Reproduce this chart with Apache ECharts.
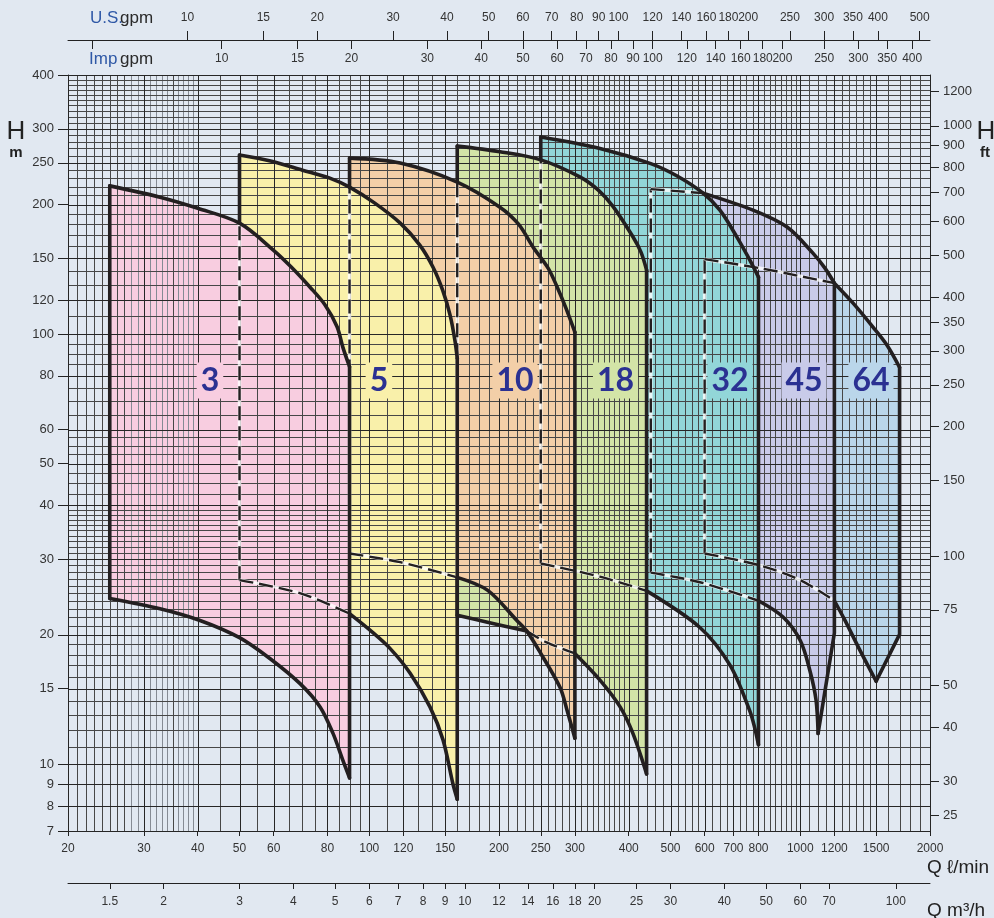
<!DOCTYPE html>
<html>
<head>
<meta charset="utf-8">
<script src="https://cdn.jsdelivr.net/npm/echarts@6/dist/echarts.min.js"></script>
<style>
  html, body { margin: 0; padding: 0; background: #e1e8f1; }
  #chart { width: 994px; height: 918px; }
</style>
</head>
<body>
<div id="chart"></div>
<script>
// ---- ranges and unit conversions ----
const Q_MIN = 20, Q_MAX = 2000;   // flow, l/min
const H_MIN = 7, H_MAX = 400;     // head, m
const L_PER_USGAL = 3.78541;
const L_PER_IMPGAL = 4.54609;
const M3H_PER_LMIN = 0.06;
const FT_PER_M = 3.28084;

// ---- tick labels ----
const qLabels = [20, 30, 40, 50, 60, 80, 100, 120, 150, 200, 250, 300, 400, 500, 600, 700, 800, 1000, 1200, 1500, 2000];
const m3hLabels = [1.5, 2, 3, 4, 5, 6, 7, 8, 9, 10, 12, 14, 16, 18, 20, 25, 30, 40, 50, 60, 70, 100];
const usGpmLabels = [10, 15, 20, 30, 40, 50, 60, 70, 80, 90, 100, 120, 140, 160, 180, 200, 250, 300, 350, 400, 500];
const impGpmTicks = [5, 10, 15, 20, 30, 40, 50, 60, 70, 80, 90, 100, 120, 140, 160, 180, 200, 250, 300, 350, 400];
const impGpmLabels = [10, 15, 20, 30, 40, 50, 60, 70, 80, 90, 100, 120, 140, 160, 180, 200, 250, 300, 350, 400];
const hLabels = [7, 8, 9, 10, 15, 20, 30, 40, 50, 60, 80, 100, 120, 150, 200, 250, 300, 400];
const ftLabels = [25, 30, 40, 50, 75, 100, 150, 200, 250, 300, 350, 400, 500, 600, 700, 800, 900, 1000, 1200];

// ---- secondary grid lines of the log paper ----
const qGridMinor = [21, 22, 23, 24, 25, 26, 27, 28, 29, 31, 32, 33, 34, 35, 36, 37, 38, 39,
  45, 55, 65, 70, 75, 85, 90, 95,
  110, 130, 140, 160, 170, 180, 190, 210, 220, 230, 240, 260, 270, 280, 290,
  310, 320, 330, 340, 350, 360, 370, 380, 390, 420, 440, 460, 480, 520, 540, 560, 580,
  625, 650, 675, 725, 750, 775, 825, 850, 875, 900, 925, 950, 975,
  1050, 1100, 1150, 1250, 1300, 1350, 1400, 1450, 1600, 1700, 1800, 1900];
const qGridFaint = [28, 29, 31, 32, 33, 34, 36, 37, 38, 39];
const hGridMinor = [11, 12, 13, 14, 16, 17, 18, 19, 21, 22, 23, 24, 25, 26, 27, 28, 29,
  31, 32, 33, 34, 35, 36, 37, 38, 39, 42.5, 45, 47.5, 52.5, 55, 57.5,
  65, 70, 75, 85, 90, 95, 110, 130, 140, 160, 170, 180, 190,
  210, 220, 230, 240, 260, 270, 280, 290, 310, 320, 330, 340, 350, 360, 370, 380, 390];

// ---- operating envelopes per pump family: [Q l/min, H m] ----
const top3 = [[25, 221], [32.7, 208], [40, 196], [50, 181], [59.8, 157], [66, 143], [72.9, 128.5], [78.9, 117], [84.2, 104], [86.9, 93], [90, 84]];
const bot3 = [[25, 24.3], [32.7, 23.0], [40.5, 21.6], [50, 19.7], [58.9, 17.6], [69.1, 15.4], [76.9, 13.6], [82.4, 11.8], [86.9, 10.2], [90, 9.3]];

const top5 = [[50, 260.6], [59, 252.4], [70, 240.4], [81, 230.4], [90, 219.5], [103, 201.5], [118, 181], [131, 161], [140.6, 143], [148, 126.5], [154, 110.7], [158, 96.8], [160, 87.9]];
const bot5 = [[50, 26.8], [69, 25.0], [90, 22.4], [100.4, 20.5], [111.7, 18.6], [124.3, 16.3], [138.3, 13.6], [148.3, 11.4], [156.4, 9.0], [160, 8.3]];

const top10 = [[90, 256.4], [118, 249.7], [160, 225.5], [201, 197.2], [222, 180], [240, 159.2], [260, 142.3], [273, 128.5], [286, 114.9], [300, 101]];
const bot10 = [[90, 30.9], [118, 29.5], [160, 27.2], [188, 25.4], [220, 21.6], [232, 20.4], [250, 18.1], [277, 15.1], [288, 13.3], [300, 11.5]];

const top18 = [[160, 273.4], [201, 265.3], [250, 254], [308, 231.9], [340, 216], [368, 197.8], [409, 168.3], [427, 155], [440, 140.8]];
const bot18 = [[160, 22.2], [188, 21.4], [232, 20.4], [258, 19.2], [300, 18.1], [343, 15.7], [382, 13.6], [409, 11.8], [440, 9.5]];

const top32 = [[250, 287], [343, 270], [450, 249], [518, 233], [595, 212.6], [651, 194], [713, 168], [764, 148.5], [800, 135.6]];
const bot32 = [[250, 29.3], [343, 27.3], [440, 25.3], [585, 20.8], [687, 17.0], [764, 13.3], [785, 12.1], [800, 11.1]];

const top45 = [[450, 217.2], [595, 212.6], [777, 194.1], [932, 177.3], [1070, 154.2], [1141, 142.3], [1200, 131.3]];
const bot45 = [[450, 27.9], [585, 26.5], [800, 24.0], [912, 22.0], [1000, 19.4], [1053, 16.5], [1088, 14.1], [1100, 11.8]];
const tail45 = [[1200, 20.2]];

const top64 = [[600, 149.3], [806, 142.3], [1000, 136.3], [1200, 131.3], [1326, 118], [1475, 103.8], [1590, 94.2], [1700, 83.7]];
const bot64 = [[600, 30.9], [806, 29.0], [1000, 26.8], [1200, 24.0], [1270, 21.6], [1376, 18.4], [1500, 15.6]];
const tail64 = [[1700, 20.05]];

// ---- family names, colours and tag positions ----
const familyNames = ['3', '5', '10', '18', '32', '45', '64'];
const familyColors = ['#f8cde0', '#f9f0aa', '#f3cfa8', '#d3e4a7', '#92d6d8', '#c9cbe9', '#bad6ea'];
const labelQ = [42.7, 105.3, 217.8, 372.7, 687, 1020, 1459];
const labelH = 78;

// Each envelope; the *Hidden spans are stretches of the outline that lie
// behind a smaller family and are therefore drawn dashed.
const families = [
  { top: top3,  bottom: bot3,  tail: [],     leftHidden: [],              topHidden: [],            bottomHidden: [] },
  { top: top5,  bottom: bot5,  tail: [],     leftHidden: [[26.8, 181]],   topHidden: [],            bottomHidden: [[50, 90]] },
  { top: top10, bottom: bot10, tail: [],     leftHidden: [[30.9, 219.5]], topHidden: [],            bottomHidden: [[90, 160]] },
  { top: top18, bottom: bot18, tail: [],     leftHidden: [[27.2, 225.5]], topHidden: [],            bottomHidden: [[232, 300]] },
  { top: top32, bottom: bot32, tail: [],     leftHidden: [[29.3, 254]],   topHidden: [],            bottomHidden: [[250, 440]] },
  { top: top45, bottom: bot45, tail: tail45, leftHidden: [[27.9, 217.2]], topHidden: [[450, 595]],  bottomHidden: [[450, 800]] },
  { top: top64, bottom: bot64, tail: tail64, leftHidden: [[30.9, 149.3]], topHidden: [[600, 1200]], bottomHidden: [[600, 1200]] }
];

function inSpan(v, spans) {
  return spans.some(s => v > s[0] && v < s[1]);
}
// split a curve into runs of solid / dashed segments
function splitCurve(pts, spans) {
  const out = [];
  for (let i = 0; i < pts.length - 1; i++) {
    const dashed = inSpan((pts[i][0] + pts[i + 1][0]) / 2, spans);
    const last = out[out.length - 1];
    if (last && last.dashed === dashed) last.pts.push(pts[i + 1]);
    else out.push({ dashed, smooth: true, pts: [pts[i], pts[i + 1]] });
  }
  return out;
}
// split the vertical left edge at flow q
function splitEdge(q, h0, h1, spans) {
  const cuts = [h0, h1];
  spans.forEach(s => cuts.push(s[0], s[1]));
  const hs = Array.from(new Set(cuts)).filter(h => h >= h0 && h <= h1).sort((a, b) => a - b);
  const out = [];
  for (let i = 0; i < hs.length - 1; i++) {
    out.push({ dashed: inSpan((hs[i] + hs[i + 1]) / 2, spans), smooth: false, pts: [[q, hs[i]], [q, hs[i + 1]]] });
  }
  return out;
}

const outlinePieces = [];
families.forEach(f => {
  const q0 = f.top[0][0];
  splitEdge(q0, f.bottom[0][1], f.top[0][1], f.leftHidden).forEach(p => outlinePieces.push(p));
  splitCurve(f.top, f.topHidden).forEach(p => outlinePieces.push(p));
  outlinePieces.push({ dashed: false, smooth: false,
    pts: [f.top[f.top.length - 1]].concat(f.tail, [f.bottom[f.bottom.length - 1]]) });
  splitCurve(f.bottom, f.bottomHidden).forEach(p => outlinePieces.push(p));
});

const dashedPieces = outlinePieces.filter(p => p.dashed);
const solidPieces = outlinePieces.filter(p => !p.dashed);

// grid line data: [value, anchor, kind]  kind 0 = main, 1 = secondary, 2 = faint
const gridQData = qLabels.map(q => [q, H_MIN, 0])
  .concat(qGridMinor.map(q => [q, H_MIN, qGridFaint.indexOf(q) >= 0 ? 2 : 1]));
const gridHData = hLabels.map(h => [Q_MIN, h, 0]).concat(hGridMinor.map(h => [Q_MIN, h, 1]));
const GRID_COLORS = ['#262626', '#474747', '#858b94'];
const OUTLINE = '#231f20';
const SMOOTH = 0.32;

const tickFont = '"Liberation Sans", Arial, sans-serif';
const fmt = v => String(Math.round(v * 100) / 100);

function logAxis(extra) {
  return Object.assign({
    type: 'log', logBase: 10,
    splitLine: { show: false }, minorTick: { show: false }, minorSplitLine: { show: false },
    axisLine: { show: true, lineStyle: { color: '#222', width: 1 } }
  }, extra);
}

const chart = echarts.init(document.getElementById('chart'), null, { renderer: 'canvas' });

const titleFont = '17px "Liberation Sans", Arial, sans-serif';
function titleText(x, y, text, fill, font, align) {
  return { type: 'text', x: x, y: y, silent: true,
    style: { text: text, fill: fill, font: font, textAlign: align || 'left', align: align || 'left',
      textVerticalAlign: 'middle', verticalAlign: 'middle' } };
}

const option = {
  backgroundColor: '#e1e8f1',
  animation: false,
  grid: { left: 68, right: 64, top: 75, bottom: 87, containLabel: false, outerBoundsMode: 'none' },
  xAxis: [
    logAxis({
      min: Q_MIN, max: Q_MAX, position: 'bottom',
      axisTick: { show: true, customValues: qLabels, length: 5, lineStyle: { color: '#222' } },
      axisLabel: { customValues: qLabels, formatter: fmt, color: '#333', fontSize: 12, fontFamily: tickFont, margin: 12 }
    }),
    logAxis({
      min: Q_MIN * M3H_PER_LMIN, max: Q_MAX * M3H_PER_LMIN, position: 'bottom', offset: 52,
      axisTick: { show: true, customValues: m3hLabels, length: 6, lineStyle: { color: '#222' } },
      axisLabel: { customValues: m3hLabels, formatter: fmt, color: '#333', fontSize: 12, fontFamily: tickFont, margin: 13 }
    }),
    logAxis({
      min: Q_MIN / L_PER_USGAL, max: Q_MAX / L_PER_USGAL, position: 'top', offset: 35,
      axisTick: { show: true, customValues: usGpmLabels, length: 9, lineStyle: { color: '#222' } },
      axisLabel: { customValues: usGpmLabels, formatter: fmt, color: '#333', fontSize: 12, fontFamily: tickFont, margin: 16 }
    }),
    logAxis({
      min: Q_MIN / L_PER_IMPGAL, max: Q_MAX / L_PER_IMPGAL, position: 'top', offset: 35,
      axisLine: { show: false },
      axisTick: { show: true, inside: true, customValues: impGpmTicks, length: 9, lineStyle: { color: '#222' } },
      axisLabel: { inside: true, customValues: impGpmLabels, formatter: fmt, color: '#333', fontSize: 12, fontFamily: tickFont, margin: 13 }
    })
  ],
  yAxis: [
    logAxis({
      min: H_MIN, max: H_MAX, position: 'left',
      axisTick: { show: true, customValues: hLabels, length: 10, lineStyle: { color: '#222' } },
      axisLabel: { customValues: hLabels, formatter: fmt, color: '#333', fontSize: 13, fontFamily: tickFont, margin: 14 }
    }),
    logAxis({
      min: H_MIN * FT_PER_M, max: H_MAX * FT_PER_M, position: 'right',
      axisTick: { show: true, customValues: ftLabels, length: 9, lineStyle: { color: '#222' } },
      axisLabel: { customValues: ftLabels, formatter: fmt, color: '#333', fontSize: 13, fontFamily: tickFont, margin: 13 }
    })
  ],
  graphic: [
    titleText(90, 18, 'U.S.', '#2f58a6', titleFont),
    titleText(120, 18, 'gpm', '#2a2a2a', titleFont),
    titleText(89, 59, 'Imp', '#2f58a6', titleFont),
    titleText(120, 59, 'gpm', '#2a2a2a', titleFont),
    titleText(16, 132, 'H', '#222', '26px "Liberation Sans", Arial, sans-serif', 'center'),
    titleText(16, 153, 'm', '#222', 'bold 15px "Liberation Sans", Arial, sans-serif', 'center'),
    titleText(986, 132, 'H', '#222', '26px "Liberation Sans", Arial, sans-serif', 'center'),
    titleText(985, 153, 'ft', '#222', 'bold 15px "Liberation Sans", Arial, sans-serif', 'center'),
    titleText(927, 868, 'Q \u2113/min', '#222', '19px "Liberation Sans", Arial, sans-serif'),
    titleText(927, 911, 'Q m\u00b3/h', '#222', '19px "Liberation Sans", Arial, sans-serif')
  ],
  series: [
    {
      // coloured envelopes, larger families behind smaller ones
      type: 'custom', name: 'envelopes', coordinateSystem: 'cartesian2d', xAxisIndex: 0, yAxisIndex: 0,
      z: 1, silent: true,
      data: families.map((f, i) => [f.top[0][0], f.top[0][1], i]).reverse(),
      renderItem: function (params, api) {
        const i = api.value(2);
        const f = families[i];
        const ring = f.top.concat(f.tail, f.bottom.slice().reverse());
        return {
          type: 'polygon', z2: 20 - i,
          shape: { points: ring.map(p => api.coord(p)) },
          style: { fill: familyColors[i], stroke: null }
        };
      }
    },
    {
      // vertical grid of the log paper
      type: 'custom', name: 'gridQ', coordinateSystem: 'cartesian2d', xAxisIndex: 0, yAxisIndex: 0,
      z: 2, silent: true, data: gridQData,
      renderItem: function (params, api) {
        const q = api.value(0), kind = api.value(2);
        const a = api.coord([q, H_MIN]), b = api.coord([q, H_MAX]);
        const x = Math.round(a[0]) + 0.5;
        return { type: 'line', z2: kind === 0 ? 3 : (kind === 1 ? 2 : 1),
          shape: { x1: x, y1: a[1], x2: x, y2: b[1] },
          style: { stroke: GRID_COLORS[kind], lineWidth: 1 } };
      }
    },
    {
      // horizontal grid of the log paper
      type: 'custom', name: 'gridH', coordinateSystem: 'cartesian2d', xAxisIndex: 0, yAxisIndex: 0,
      z: 2, silent: true, data: gridHData,
      renderItem: function (params, api) {
        const h = api.value(1), kind = api.value(2);
        const a = api.coord([Q_MIN, h]), b = api.coord([Q_MAX, h]);
        const y = Math.round(a[1]) + 0.5;
        return { type: 'line', z2: kind === 0 ? 3 : 2,
          shape: { x1: a[0], y1: y, x2: b[0], y2: y },
          style: { stroke: GRID_COLORS[kind], lineWidth: 1 } };
      }
    },
    {
      // hidden stretches of the envelopes
      type: 'custom', name: 'hiddenOutline', coordinateSystem: 'cartesian2d', xAxisIndex: 0, yAxisIndex: 0,
      z: 3, silent: true,
      data: dashedPieces.map((p, k) => [p.pts[0][0], p.pts[0][1], k]),
      renderItem: function (params, api) {
        const p = dashedPieces[api.value(2)];
        const pts = p.pts.map(v => api.coord(v));
        const sm = p.smooth ? SMOOTH : 0;
        return {
          type: 'group',
          children: [
            { type: 'polyline', shape: { points: pts, smooth: sm },
              style: { stroke: 'rgba(255,255,255,0.8)', lineWidth: 3.5, fill: null } },
            { type: 'polyline', shape: { points: pts, smooth: sm },
              style: { stroke: OUTLINE, lineWidth: 2.4, lineDash: [14, 6], fill: null } }
          ]
        };
      }
    },
    {
      // visible envelope outlines
      type: 'custom', name: 'outline', coordinateSystem: 'cartesian2d', xAxisIndex: 0, yAxisIndex: 0,
      z: 4, silent: true,
      data: solidPieces.map((p, k) => [p.pts[0][0], p.pts[0][1], k]),
      renderItem: function (params, api) {
        const p = solidPieces[api.value(2)];
        return {
          type: 'polyline',
          shape: { points: p.pts.map(v => api.coord(v)), smooth: p.smooth ? SMOOTH : 0 },
          style: { stroke: OUTLINE, lineWidth: 3.6, lineCap: 'round', lineJoin: 'round', fill: null }
        };
      }
    },
    {
      // family tags
      type: 'custom', name: 'tags', coordinateSystem: 'cartesian2d', xAxisIndex: 0, yAxisIndex: 0,
      z: 5, silent: true,
      data: familyNames.map((n, i) => [labelQ[i], labelH, i]),
      renderItem: function (params, api) {
        const i = api.value(2);
        const c = api.coord([api.value(0), api.value(1)]);
        return {
          type: 'text', x: c[0], y: c[1],
          style: {
            text: familyNames[i], fill: '#2b3192',
            font: 'bold 32px Lato, "Open Sans", sans-serif',
            align: 'center', verticalAlign: 'middle', textAlign: 'center', textVerticalAlign: 'middle',
            backgroundColor: familyColors[i], padding: [3, 4, 1, 4]
          }
        };
      }
    }
  ]
};

chart.setOption(option);
</script>
</body>
</html>
